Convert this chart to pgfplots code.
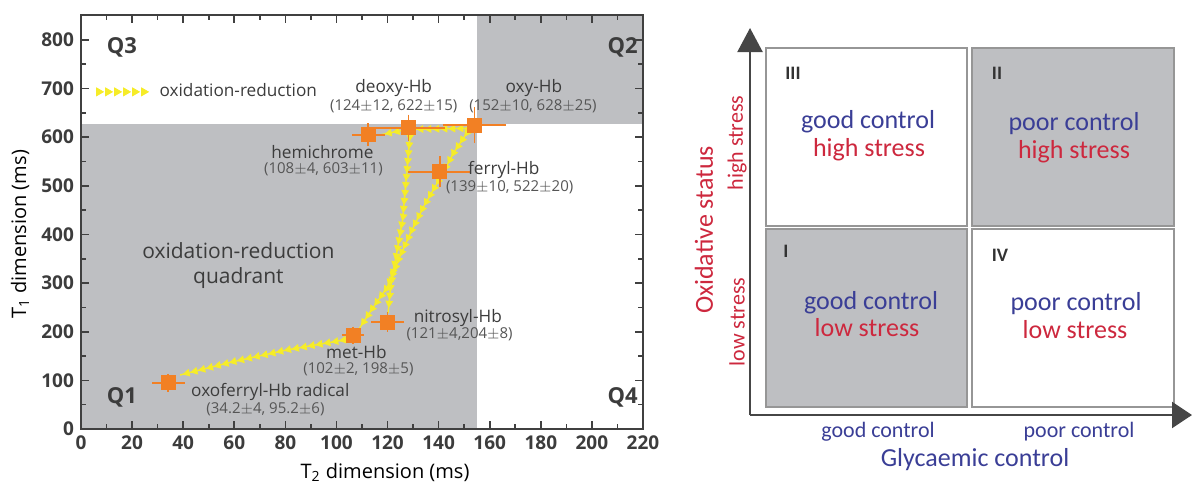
\documentclass[border=0pt]{standalone}
\usepackage{pgfplots}
\pgfplotsset{compat=1.18}
\usepackage{fontspec}
\setmainfont{Open Sans}
\newfontfamily\carl{Carlito}
\usetikzlibrary{arrows.meta,decorations.markings}
\definecolor{qgray}{RGB}{190,191,194}
\definecolor{frame}{RGB}{64,64,64}
\definecolor{txt}{RGB}{60,60,60}
\definecolor{txtl}{RGB}{85,85,85}
\definecolor{org}{RGB}{242,128,36}
\definecolor{yel}{RGB}{246,236,40}
\definecolor{blu}{RGB}{58,62,150}
\definecolor{red2}{RGB}{205,40,62}
\definecolor{boxb}{RGB}{150,150,150}
\definecolor{axc}{RGB}{70,70,70}
\tikzset{oxarr/.style={draw=yel, line width=0.7pt, postaction={decorate},
  decoration={markings, mark=between positions 0.03 and 1 step 4pt with {\arrow[color=yel]{Triangle[length=3.6pt,width=3.8pt]}}}},
  oxleg/.style={draw=none, postaction={decorate},
  decoration={markings, mark=between positions 0 and 1 step 4.5pt with {\arrow[color=yel]{Triangle[length=4pt,width=4.5pt]}}}}}
\begin{document}
\begin{tikzpicture}
\path[use as bounding box] (0,0) rectangle (596pt,243.5pt);
\begin{axis}[
  at={(40.5pt,29pt)}, anchor=south west, scale only axis,
  width=281pt, height=207pt,
  xmin=0, xmax=220, ymin=0, ymax=851,
  xtick={0,20,...,220}, ytick={0,100,...,800},
  minor x tick num=1, minor y tick num=1,
  tick align=inside, axis on top, clip=false,
  axis line style={frame, line width=1pt},
  every tick/.style={frame, line width=0.8pt},
  major tick length=4pt, minor tick length=2.5pt,
  tick label style={font=\fontsize{9.5}{10}\selectfont\bfseries, text=txt},
  /pgf/number format/assume math mode=true,
  xlabel={T\textsubscript{2} dimension (ms)},
  ylabel={T\textsubscript{1} dimension (ms)},
  label style={font=\fontsize{10.5}{12}\selectfont, text=txt},
  every axis x label/.style={at={(axis description cs:0.541,-0.104)}, anchor=center},
  every axis y label/.style={at={(axis description cs:-0.1085,0.47)}, anchor=center, rotate=90},
  legend style={at={(axis cs:5.0,693)}, anchor=west, draw=none, fill=none,
    font=\fontsize{8.6}{10}\selectfont, text=txt, inner sep=1pt},
  legend cell align=left,
]
\fill[qgray] (axis cs:0,0) rectangle (axis cs:155,627);
\fill[qgray] (axis cs:155,627) rectangle (axis cs:220,851);
\addlegendimage{legend image code/.code={\path[oxleg] (0pt,0pt) -- (22.5pt,0pt);}}
\addlegendentry{\hspace{3pt}oxidation-reduction}
% oxidation-reduction pathways
\addplot[oxarr, forget plot, no markers] coordinates {(151,618) (128,616) (116.5,604)};
\addplot[oxarr, forget plot, no markers] coordinates {(128.8,602) (128.2,568) (125.9,430) (123.1,348) (121.2,292) (120.2,238)};
\addplot[oxarr, forget plot, no markers] coordinates {(151.5,612) (145.9,568) (140.8,518) (134.1,457) (129,403) (124.3,348) (120,292) (114.5,251) (109,207)};
\addplot[oxarr, forget plot, no markers] coordinates {(102.9,183) (80.6,162.5) (59.7,138.5) (38.8,111)};
% states
\addplot[forget plot, only marks, mark=square*, mark size=3.5pt, mark options={fill=org, draw=org},
  error bars/.cd, x dir=both, x explicit, y dir=both, y explicit,
  error bar style={org, line width=0.9pt},
  error mark options={org, line width=0.9pt, mark size=3pt}]
coordinates {
(154,625) +- (10,25)
(128.2,619) +- (12,15)
(112.5,605) +- (4,11)
(140.4,529) +- (10,20)
(120,220) +- (4,8)
(106.5,193) +- (2,5)
(34.2,95) +- (4,6)
};
\begin{scope}[every node/.style={text=txt, inner sep=0.5pt, font=\fontsize{8.6}{10}\selectfont}]
\node at (axis cs:122.4,701) {deoxy-Hb};
\node at (axis cs:177.3,701) {oxy-Hb};
\node at (axis cs:94.5,570) {hemichrome};
\node at (axis cs:165.5,533) {ferryl-Hb};
\node at (axis cs:147.5,228) {nitrosyl-Hb};
\node at (axis cs:107.8,159) {met-Hb};
\node at (axis cs:74.1,76) {oxoferryl-Hb radical};
\end{scope}
\begin{scope}[every node/.style={text=txtl, inner sep=0.5pt, font=\fontsize{7.5}{9}\selectfont}]
\node at (axis cs:122.4,664) {(124$\pm$12, 622$\pm$15)};
\node at (axis cs:176.9,664) {(152$\pm$10, 628$\pm$25)};
\node at (axis cs:94.9,533) {(108$\pm$4, 603$\pm$11)};
\node at (axis cs:167.8,496) {(139$\pm$10, 522$\pm$20)};
\node at (axis cs:148.2,195) {(121$\pm$4,204$\pm$8)};
\node at (axis cs:108.6,122) {(102$\pm$2, 198$\pm$5)};
\node at (axis cs:72.2,41) {(34.2$\pm$4, 95.2$\pm$6)};
\end{scope}
\begin{scope}[every node/.style={text=txt, font=\fontsize{11}{12}\selectfont\bfseries}]
\node at (axis cs:16,785) {Q3};
\node at (axis cs:212,785) {Q2};
\node at (axis cs:16,66) {Q1};
\node at (axis cs:212,66) {Q4};
\end{scope}
\node[text=txt, font=\fontsize{10.5}{12.5}\selectfont, align=center] at (axis cs:61.6,337) {oxidation-reduction\\quadrant};
\end{axis}
% right panel (diagram)
\begin{axis}[
  at={(0pt,0pt)}, anchor=south west, scale only axis,
  width=596pt, height=243.5pt,
  xmin=0, xmax=1192, ymin=0, ymax=487, y dir=reverse,
  hide axis, clip=false,
]
\filldraw[fill=white, draw=boxb, line width=0.6pt] (axis cs:766,48) rectangle (axis cs:967,226);
\filldraw[fill=qgray, draw=boxb, line width=0.6pt] (axis cs:972,48) rectangle (axis cs:1174,226);
\filldraw[fill=qgray, draw=boxb, line width=0.6pt] (axis cs:766,229) rectangle (axis cs:967,407);
\filldraw[fill=white, draw=boxb, line width=0.6pt] (axis cs:972,229) rectangle (axis cs:1174,407);
\draw[axc, line width=1.1pt, -{Triangle[length=12pt,width=12.5pt]}] (axis cs:750,415) -- (axis cs:750,28);
\draw[axc, line width=1.1pt, -{Triangle[length=10pt,width=13pt]}] (axis cs:750,415) -- (axis cs:1192,415);
\begin{scope}[every node/.style={text=black!80, font=\carl\fontsize{9.5}{10}\selectfont\bfseries}]
\node at (axis cs:793,73) {III};
\node at (axis cs:997,73) {II};
\node at (axis cs:786,251) {I};
\node at (axis cs:1000,255) {IV};
\end{scope}
\begin{scope}[every node/.style={font=\carl\fontsize{13}{14}\selectfont}]
\node[text=blu] at (axis cs:868,122) {good control};
\node[text=red2] at (axis cs:869,150) {high stress};
\node[text=blu] at (axis cs:1074,124) {poor control};
\node[text=red2] at (axis cs:1074,152) {high stress};
\node[text=blu] at (axis cs:871,303) {good control};
\node[text=red2] at (axis cs:867,328) {low stress};
\node[text=blu] at (axis cs:1076,304) {poor control};
\node[text=red2] at (axis cs:1075,330) {low stress};
\node[text=blu] at (axis cs:975,460) {Glycaemic control};
\node[text=red2, rotate=90] at (axis cs:704,230) {Oxidative status};
\end{scope}
\begin{scope}[every node/.style={font=\carl\fontsize{11}{12}\selectfont}]
\node[text=blu] at (axis cs:878,432) {good control};
\node[text=blu] at (axis cs:1079,432) {poor control};
\node[text=red2, rotate=90] at (axis cs:737,143) {high stress};
\node[text=red2, rotate=90] at (axis cs:737,322) {low stress};
\end{scope}
\end{axis}
\end{tikzpicture}
\end{document}
